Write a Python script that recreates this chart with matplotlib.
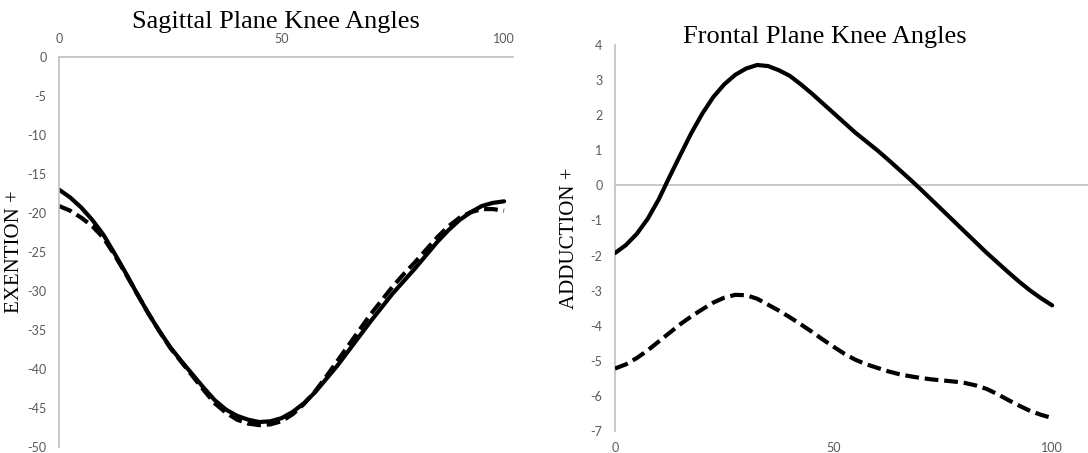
import matplotlib
matplotlib.use("Agg")
import matplotlib.pyplot as plt

plt.rcParams["axes.unicode_minus"] = False

# ---- data ----
pct = [0, 2.5, 5, 7.5, 10, 12.5, 15, 17.5, 20, 22.5, 25, 27.5, 30, 32.5, 35, 37.5, 40,
       42.5, 45, 47.5, 50, 52.5, 55, 57.5, 60, 62.5, 65, 67.5, 70, 72.5, 75, 77.5, 80,
       82.5, 85, 87.5, 90, 92.5, 95, 97.5, 100]

sag_solid = [-17.0, -18.0, -19.3, -20.9, -22.8, -25.2, -27.7, -30.3, -32.8, -35.1, -37.2,
             -39.0, -40.7, -42.4, -44.0, -45.2, -46.0, -46.5, -46.8, -46.7, -46.3, -45.5,
             -44.4, -43.0, -41.3, -39.6, -37.7, -35.8, -33.9, -32.1, -30.3, -28.7, -27.1,
             -25.4, -23.7, -22.2, -20.9, -19.9, -19.1, -18.7, -18.5]
sag_dashed = [-19.1, -19.7, -20.6, -21.7, -23.2, -25.4, -27.8, -30.3, -32.8, -35.1, -37.3,
              -39.1, -40.9, -42.7, -44.4, -45.6, -46.5, -47.0, -47.2, -47.1, -46.7, -45.8,
              -44.5, -42.9, -41.0, -39.0, -37.0, -35.0, -33.0, -31.2, -29.4, -27.8, -26.3,
              -24.7, -23.1, -21.7, -20.6, -19.9, -19.5, -19.5, -19.7]

front_solid = [-1.93, -1.7, -1.38, -0.95, -0.4, 0.25, 0.88, 1.5, 2.05, 2.52, 2.88, 3.15,
               3.33, 3.43, 3.40, 3.28, 3.12, 2.88, 2.62, 2.34, 2.06, 1.78, 1.5, 1.25, 1.0,
               0.73, 0.45, 0.17, -0.12, -0.42, -0.72, -1.02, -1.32, -1.62, -1.92, -2.2,
               -2.48, -2.75, -3.0, -3.22, -3.42]
front_dashed = [-5.22, -5.1, -4.92, -4.7, -4.45, -4.2, -3.95, -3.73, -3.53, -3.34, -3.2,
                -3.12, -3.13, -3.23, -3.4, -3.57, -3.76, -3.96, -4.17, -4.39, -4.6, -4.8,
                -4.97, -5.1, -5.2, -5.3, -5.38, -5.44, -5.49, -5.53, -5.56, -5.59, -5.63,
                -5.7, -5.8, -5.95, -6.12, -6.28, -6.43, -6.54, -6.63]

sag_yticks = [0, -5, -10, -15, -20, -25, -30, -35, -40, -45, -50]
front_yticks = [4, 3, 2, 1, 0, -1, -2, -3, -4, -5, -6, -7]
xticks = [0, 50, 100]

# ---- style ----
W, H = 1088, 453
fig = plt.figure(figsize=(W / 100, H / 100), dpi=100)
grey = "#BFBFBF"
tick_col = "#595959"
serif = "Liberation Serif"
lw = 3.0
dash = (3.3, 1.4)

def px_axes(x0, y0, x1, y1):
    return fig.add_axes([x0 / W, 1 - y1 / H, (x1 - x0) / W, (y1 - y0) / H])

def style_ticks(ax):
    for lab in ax.get_xticklabels() + ax.get_yticklabels():
        lab.set_fontfamily("Lato"); lab.set_fontsize(9); lab.set_color(tick_col)

# ---- left: sagittal ----
ax1 = px_axes(59, 57, 513, 447)
ax1.plot(pct, sag_solid, color="black", lw=lw, solid_capstyle="round",
         solid_joinstyle="round")
ax1.plot(pct, sag_dashed, color="black", lw=lw, dashes=dash)
ax1.set_xlim(0, 102)
ax1.set_ylim(-50, 0)
ax1.set_yticks(sag_yticks)
ax1.set_xticks(xticks)
ax1.xaxis.tick_top()
for s in ["right", "bottom"]:
    ax1.spines[s].set_visible(False)
for s in ["left", "top"]:
    ax1.spines[s].set_color(grey)
    ax1.spines[s].set_linewidth(1.2)
ax1.tick_params(axis="both", length=0)
ax1.tick_params(axis="y", pad=9)
ax1.tick_params(axis="x", pad=9)
style_ticks(ax1)
ax1.patch.set_alpha(0)
fig.text(276 / W, 1 - 22 / H, "Sagittal Plane Knee Angles", family=serif, size=19,
         ha="center", va="center")
fig.text(15 / W, 1 - 252 / H, "EXENTION +", family=serif, size=15, rotation=90,
         ha="center", va="center")

# ---- right: frontal ----
ax2 = px_axes(615, 45, 1088, 431)
ax2.axhline(0, color=grey, lw=1.2, zorder=1)
ax2.plot(pct, front_solid, color="black", lw=lw, solid_capstyle="round",
         solid_joinstyle="round", zorder=3)
ax2.plot(pct, front_dashed, color="black", lw=lw, dashes=dash, zorder=3)
ax2.set_xlim(0, 108.2)
ax2.set_ylim(-7, 4)
ax2.set_yticks(front_yticks)
ax2.set_xticks(xticks)
for s in ["right", "top", "bottom"]:
    ax2.spines[s].set_visible(False)
ax2.spines["left"].set_color(grey)
ax2.spines["left"].set_linewidth(1.2)
ax2.tick_params(axis="both", length=0)
ax2.tick_params(axis="y", pad=9)
ax2.tick_params(axis="x", pad=8)
style_ticks(ax2)
ax2.patch.set_alpha(0)
fig.text(825 / W, 1 - 37 / H, "Frontal Plane Knee Angles", family=serif, size=19,
         ha="center", va="center")
fig.text(570 / W, 1 - 238 / H, "ADDUCTION +", family=serif, size=15, rotation=90,
         ha="center", va="center")

fig.savefig("out.png", dpi=100)
